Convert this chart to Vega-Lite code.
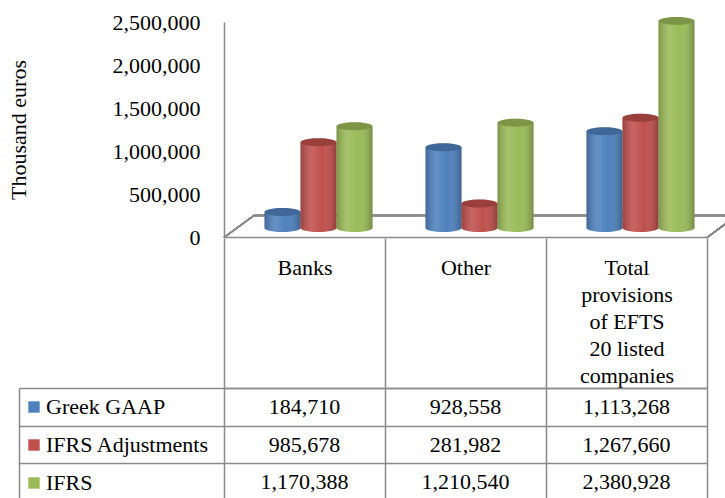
{
  "$schema": "https://vega.github.io/schema/vega-lite/v6.json",
  "background": "white",
  "padding": {"left": 7, "top": 11, "right": 0, "bottom": 0},
  "config": {
    "view": {"stroke": null},
    "font": "Liberation Serif, Times New Roman, DejaVu Serif, serif",
    "axis": {"labelFont": "Liberation Serif, Times New Roman, DejaVu Serif, serif", "titleFont": "Liberation Serif, Times New Roman, DejaVu Serif, serif", "labelColor": "black", "titleColor": "black"},
    "legend": {"labelFont": "Liberation Serif, Times New Roman, DejaVu Serif, serif", "labelColor": "black"}
  },
  "datasets": {
    "provisions": [
      {"category": "Banks", "series": "Greek GAAP", "value": 184710},
      {"category": "Other", "series": "Greek GAAP", "value": 928558},
      {"category": "Total provisions of EFTS 20 listed companies", "series": "Greek GAAP", "value": 1113268},
      {"category": "Banks", "series": "IFRS Adjustments", "value": 985678},
      {"category": "Other", "series": "IFRS Adjustments", "value": 281982},
      {"category": "Total provisions of EFTS 20 listed companies", "series": "IFRS Adjustments", "value": 1267660},
      {"category": "Banks", "series": "IFRS", "value": 1170388},
      {"category": "Other", "series": "IFRS", "value": 1210540},
      {"category": "Total provisions of EFTS 20 listed companies", "series": "IFRS", "value": 2380928}
    ]
  },
  "bounds": "flush",
  "spacing": 151,
  "vconcat": [
    {
      "width": 483,
      "height": 215,
      "data": {"name": "provisions"},
      "layer": [
        {
          "encoding": {
            "x": {"field": "category", "type": "nominal", "scale": {"type": "point", "domain": ["Banks", "Other", "Total provisions of EFTS 20 listed companies"], "padding": 0.5},
                  "axis": {"title": null, "labels": false, "ticks": false, "grid": false, "domainColor": "#8a8a8a", "domainWidth": 1.5}},
            "y": {"field": "value", "type": "quantitative", "scale": {"domain": [0, 2500000], "nice": false},
                  "axis": {"title": "Thousand euros", "values": [0, 500000, 1000000, 1500000, 2000000, 2500000], "format": ",d", "ticks": false, "grid": false,
                           "labelPadding": 24, "labelFontSize": 22, "titleFontSize": 22, "titleFontWeight": "normal", "titlePadding": 82,
                           "domainColor": "#8a8a8a", "domainWidth": 1.5}}
          },
          "layer": [
            {"mark": {"type": "rule", "opacity": 0}},
            {
              "mark": {"type": "point", "shape": "M -0.966 0.002 L -0.846 -0.086 L 1.086 -0.086 L 0.966 0.002", "filled": false, "opacity": 1,
                       "stroke": "#8a8a8a", "strokeWidth": 1.5, "size": 250000},
              "encoding": {"x": {"datum": "Other"}, "y": {"datum": 0}}
            }
          ]
        },
        {
          "encoding": {
            "x": {"field": "category", "type": "nominal",
                  "scale": {"domain": ["Banks", "Other", "Total provisions of EFTS 20 listed companies"], "range": [14, 497], "paddingInner": 0.329, "paddingOuter": 0.1646},
                  "axis": null},
            "xOffset": {"field": "series", "type": "nominal", "scale": {"domain": ["Greek GAAP", "IFRS Adjustments", "IFRS"], "paddingInner": 0, "paddingOuter": 0}},
            "y": {"field": "value", "type": "quantitative", "scale": {"domain": [0, 2500000], "range": [206, -11.5], "nice": false}, "axis": null},
            "color": {"field": "series", "type": "nominal", "scale": {"domain": ["Greek GAAP", "IFRS Adjustments", "IFRS"], "range": ["#4F81BD", "#C0504D", "#9BBB59"]},
                      "legend": {"title": null, "orient": "none", "legendX": -201, "legendY": 374, "symbolType": "square", "symbolSize": 130, "symbolStrokeWidth": 0,
                                 "symbolOpacity": 1, "labelFontSize": 22, "labelOffset": 1, "labelLimit": 0, "rowPadding": 16, "padding": 0}}
          },
          "layer": [
            {
              "mark": {"type": "point", "shape": "M -1 0 A 1 0.22 0 1 0 1 0 A 1 0.22 0 1 0 -1 0 Z", "filled": true, "opacity": 1, "size": 1296, "strokeWidth": 0},
              "encoding": {"y": {"datum": 0, "type": "quantitative"}}
            },
            {
              "mark": {"type": "point", "shape": "M -1 0 A 1 0.22 0 1 0 1 0 A 1 0.22 0 1 0 -1 0 Z", "filled": true, "opacity": 1, "size": 1296, "strokeWidth": 0,
                       "fill": {"gradient": "linear", "x1": 0, "x2": 1, "y1": 0, "y2": 0, "stops": [
                         {"offset": 0, "color": "rgba(0,0,0,0.2)"}, {"offset": 0.3, "color": "rgba(255,255,255,0.12)"}, {"offset": 0.6, "color": "rgba(255,255,255,0)"}, {"offset": 1, "color": "rgba(0,0,0,0.25)"}]}},
              "encoding": {"y": {"datum": 0, "type": "quantitative"}, "color": {"value": null}}
            },
            {
              "mark": {"type": "bar"},
              "encoding": {}
            },
            {
              "mark": {"type": "bar",
                       "fill": {"gradient": "linear", "x1": 0, "x2": 1, "y1": 0, "y2": 0, "stops": [
                         {"offset": 0, "color": "rgba(0,0,0,0.2)"}, {"offset": 0.3, "color": "rgba(255,255,255,0.12)"}, {"offset": 0.6, "color": "rgba(255,255,255,0)"}, {"offset": 1, "color": "rgba(0,0,0,0.25)"}]}},
              "encoding": {"color": {"value": null}}
            },
            {
              "mark": {"type": "point", "shape": "M -1 0 A 1 0.22 0 1 0 1 0 A 1 0.22 0 1 0 -1 0 Z", "filled": true, "opacity": 1, "size": 1296, "strokeWidth": 0},
              "encoding": {}
            },
            {
              "mark": {"type": "point", "shape": "M -1 0 A 1 0.22 0 1 0 1 0 A 1 0.22 0 1 0 -1 0 Z", "filled": true, "opacity": 0.2, "size": 1296, "strokeWidth": 0},
              "encoding": {"color": {"value": "black"}}
            }
          ]
        }
      ],
      "resolve": {"scale": {"x": "independent", "y": "independent"}}
    },
    {
      "width": 483,
      "height": 113,
      "data": {"name": "provisions"},
      "mark": {"type": "text", "fontSize": 22, "color": "black", "font": "Liberation Serif, Times New Roman, DejaVu Serif, serif"},
      "encoding": {
        "x": {"field": "category", "type": "nominal",
              "scale": {"domain": ["Banks", "Other", "Total provisions of EFTS 20 listed companies"], "paddingInner": 0, "paddingOuter": 0},
              "axis": {"orient": "top", "title": null, "labelAngle": 0, "tickBand": "extent", "tickSize": 150, "tickColor": "#8a8a8a", "tickWidth": 1.5,
                       "domainColor": "#8a8a8a", "domainWidth": 1.5, "grid": true, "gridColor": "#8a8a8a", "gridWidth": 1.5,
                       "labelBaseline": "top", "labelPadding": -19, "labelFontSize": 22, "labelLineHeight": 27, "labelLimit": 0, "labelOverlap": false,
                       "labelExpr": "datum.value == 'Total provisions of EFTS 20 listed companies' ? ['Total', 'provisions', 'of EFTS', '20 listed', 'companies'] : datum.value"}},
        "y": {"field": "series", "type": "nominal",
              "scale": {"domain": ["Greek GAAP", "IFRS Adjustments", "IFRS"], "paddingInner": 0, "paddingOuter": 0},
              "axis": {"title": null, "labels": false, "tickBand": "extent", "tickSize": -205, "offset": 205, "tickColor": "#8a8a8a", "tickWidth": 1.5,
                       "domainColor": "#8a8a8a", "domainWidth": 1.5, "grid": true, "gridColor": "#8a8a8a", "gridWidth": 1.5}},
        "text": {"field": "value", "type": "quantitative", "format": ","}
      }
    }
  ]
}
